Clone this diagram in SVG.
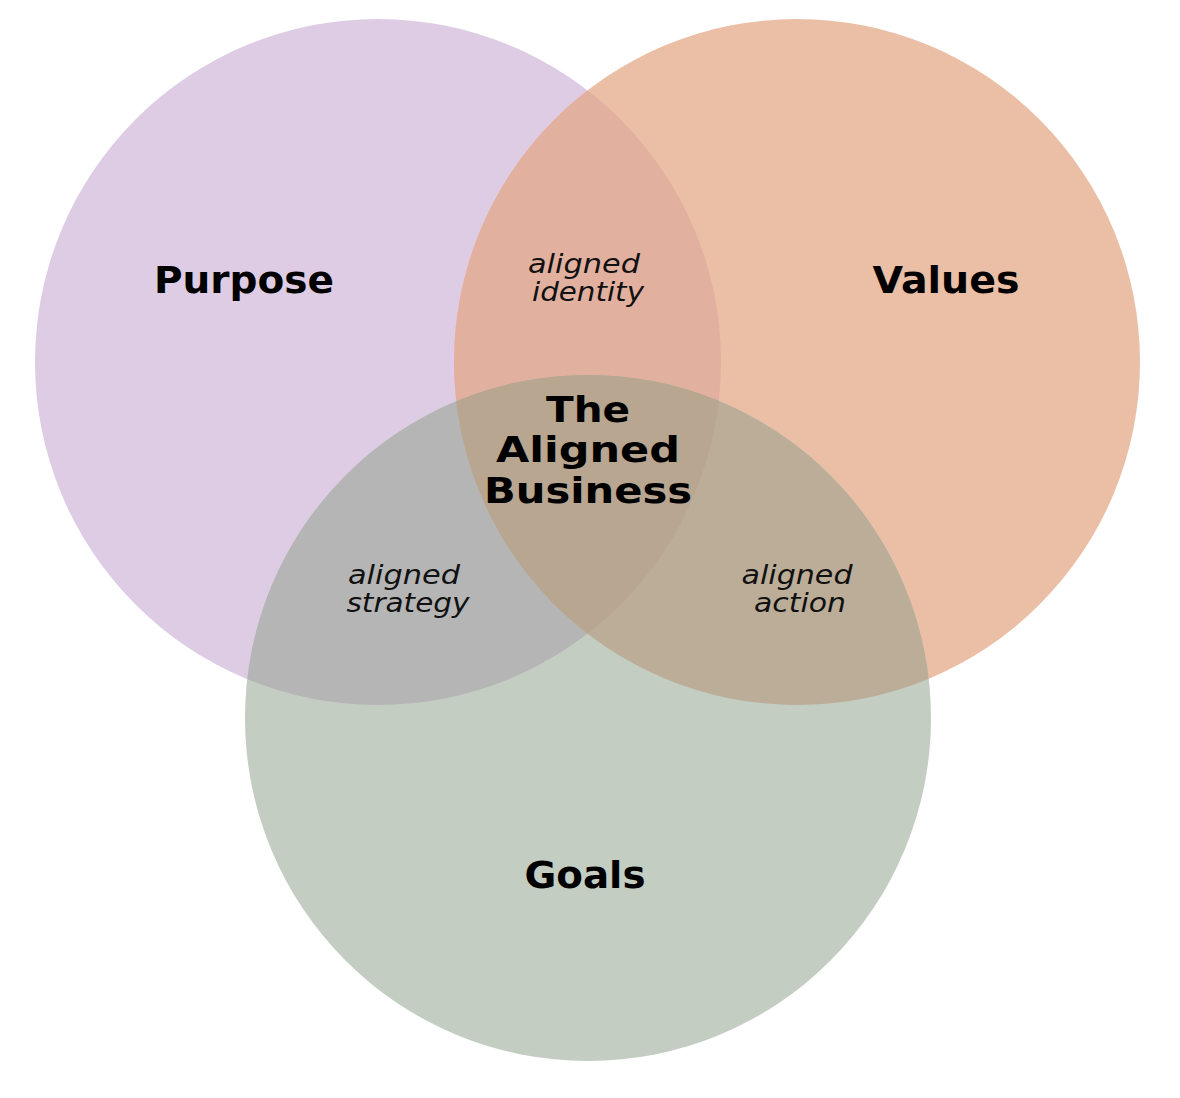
<svg xmlns="http://www.w3.org/2000/svg" width="1180" height="1098" viewBox="0 0 1180 1098">
<style>
.t{font-family:"DejaVu Sans","Liberation Sans",sans-serif;font-weight:bold;fill:#000;text-anchor:middle}
.i{font-family:"DejaVu Sans","Liberation Sans",sans-serif;font-style:italic;fill:#111;text-anchor:middle;font-size:26px}
</style>
<defs>
<clipPath id="cP"><circle cx="378" cy="362" r="343"/></clipPath>
<clipPath id="cV"><circle cx="797" cy="362" r="343"/></clipPath>
<clipPath id="cG"><circle cx="588" cy="718" r="343"/></clipPath>
</defs>
<rect width="1180" height="1098" fill="#fff"/>
<g id="purpose"><circle cx="378" cy="362" r="343" fill="#DECCE4"/></g>
<g id="values"><circle cx="797" cy="362" r="343" fill="#EBBEA6"/></g>
<g id="goals"><circle cx="588" cy="718" r="343" fill="#C3CDC2"/></g>
<g id="overlaps">
<g clip-path="url(#cP)"><circle cx="797" cy="362" r="343" fill="#E2B09F"/><circle cx="588" cy="718" r="343" fill="#B5B5B5"/></g>
<g clip-path="url(#cV)"><circle cx="588" cy="718" r="343" fill="#BCAD98"/></g>
<g clip-path="url(#cP)"><g clip-path="url(#cV)"><circle cx="588" cy="718" r="343" fill="#B8A691"/></g></g>
</g>
<g id="labels">
<text class="t" x="244" y="293" font-size="38" textLength="180" lengthAdjust="spacingAndGlyphs">Purpose</text>
<text class="t" x="946" y="293" font-size="38" textLength="147" lengthAdjust="spacingAndGlyphs">Values</text>
<text class="t" x="585" y="888" font-size="38" textLength="121" lengthAdjust="spacingAndGlyphs">Goals</text>
<text class="t" x="588" y="422" font-size="36" textLength="84" lengthAdjust="spacingAndGlyphs">The</text>
<text class="t" x="588" y="462" font-size="36" textLength="184" lengthAdjust="spacingAndGlyphs">Aligned</text>
<text class="t" x="588" y="503" font-size="36" textLength="208" lengthAdjust="spacingAndGlyphs">Business</text>
<text class="i" x="584" y="273" textLength="112" lengthAdjust="spacingAndGlyphs">aligned</text>
<text class="i" x="588" y="301" textLength="112" lengthAdjust="spacingAndGlyphs">identity</text>
<text class="i" x="404" y="584" textLength="112" lengthAdjust="spacingAndGlyphs">aligned</text>
<text class="i" x="408" y="612" textLength="123" lengthAdjust="spacingAndGlyphs">strategy</text>
<text class="i" x="797" y="584" textLength="111" lengthAdjust="spacingAndGlyphs">aligned</text>
<text class="i" x="800" y="612" textLength="92" lengthAdjust="spacingAndGlyphs">action</text>
</g>
</svg>
